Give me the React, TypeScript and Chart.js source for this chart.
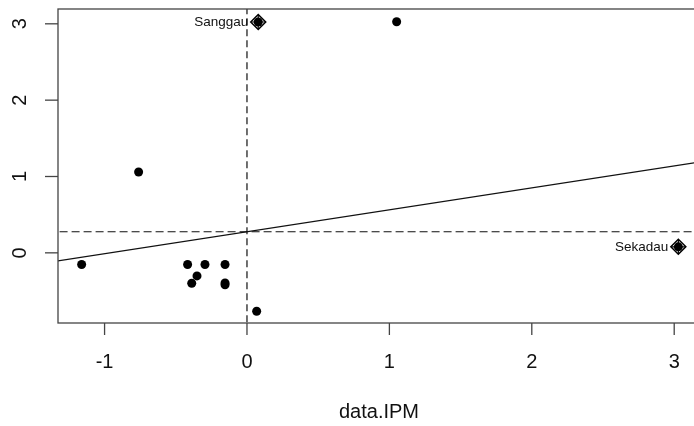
import React, { useEffect, useRef } from "react";
import { Chart, registerables } from "chart.js";

Chart.register(...registerables);

// Regular observations
const pointX = [-1.161, -0.761, -0.417, -0.388, -0.351, -0.295, -0.154, -0.154, -0.154, 0.068, 1.051];
const pointY = [-0.152, 1.059, -0.152, -0.398, -0.302, -0.152, -0.152, -0.395, -0.418, -0.765, 3.027];

// Influential (labelled) observations
const inflNames = ["Sanggau", "Sekadau"];
const inflX = [0.079, 3.029];
const inflY = [3.024, 0.079];

// Regression line endpoints
const lineX = [-1.33, 3.2];
const lineY = [-0.106, 1.195];

// Mean lines
const meanX = 0.0;
const meanY = 0.276;

const xTicks = [-1, 0, 1, 2, 3];
const yTicks = [0, 1, 2, 3];
const xTitle = "data.IPM";

const X_MIN = -1.327;
const X_MAX = 3.139;
const Y_MIN = -0.919;
const Y_MAX = 3.194;

const FONT = "'Liberation Sans', Arial, sans-serif";

export default function App() {
  const ref = useRef<HTMLCanvasElement | null>(null);

  useEffect(() => {
    document.body.style.margin = "0";
    document.body.style.overflow = "hidden";
    const canvas = ref.current;
    if (!canvas) return;

    const axesPlugin = {
      id: "rAxes",
      afterDraw(chart: any) {
        const { ctx, chartArea, scales } = chart;
        const xs = scales.x;
        const ys = scales.y;
        ctx.save();
        ctx.strokeStyle = "#444";
        ctx.lineWidth = 1.3;
        ctx.strokeRect(chartArea.left, chartArea.top, 720 - chartArea.left, chartArea.bottom - chartArea.top);
        ctx.fillStyle = "#111";
        ctx.font = `20px ${FONT}`;
        ctx.textAlign = "center";
        ctx.textBaseline = "middle";
        for (const t of xTicks) {
          const px = xs.getPixelForValue(t);
          ctx.beginPath();
          ctx.moveTo(px, chartArea.bottom);
          ctx.lineTo(px, chartArea.bottom + 12);
          ctx.stroke();
          ctx.fillText(String(t), px, 362);
        }
        for (const t of yTicks) {
          const py = ys.getPixelForValue(t);
          ctx.beginPath();
          ctx.moveTo(chartArea.left - 13, py);
          ctx.lineTo(chartArea.left, py);
          ctx.stroke();
          ctx.save();
          ctx.translate(20, py);
          ctx.rotate(-Math.PI / 2);
          ctx.fillText(String(t), 0, 0);
          ctx.restore();
        }
        ctx.fillText(xTitle, 379, 412);

        ctx.font = `13.5px ${FONT}`;
        ctx.textAlign = "right";
        for (let i = 0; i < inflNames.length; i++) {
          const px = xs.getPixelForValue(inflX[i]);
          const py = ys.getPixelForValue(inflY[i]);
          ctx.fillText(inflNames[i], px - 10, py);
        }
        ctx.restore();
      },
    };

    const chart = new Chart(canvas, {
      type: "scatter",
      data: {
        datasets: [
          {
            type: "line",
            data: lineX.map((x, i) => ({ x, y: lineY[i] })),
            borderColor: "#111",
            borderWidth: 1.2,
            pointRadius: 0,
            fill: false,
          },
          {
            type: "line",
            data: [
              { x: X_MIN - 1, y: meanY },
              { x: X_MAX + 1, y: meanY },
            ],
            borderColor: "#111",
            borderWidth: 1.2,
            borderDash: [8, 4],
            pointRadius: 0,
            fill: false,
          },
          {
            type: "line",
            data: [
              { x: meanX, y: Y_MIN - 1 },
              { x: meanX, y: Y_MAX + 1 },
            ],
            borderColor: "#111",
            borderWidth: 1.2,
            borderDash: [7, 4],
            pointRadius: 0,
            fill: false,
          },
          {
            data: pointX.map((x, i) => ({ x, y: pointY[i] })),
            pointStyle: "circle",
            pointRadius: 4.5,
            backgroundColor: "#000",
            borderColor: "#000",
            borderWidth: 0,
          },
          {
            data: inflX.map((x, i) => ({ x, y: inflY[i] })),
            pointStyle: "circle",
            pointRadius: 4.5,
            backgroundColor: "#000",
            borderColor: "#000",
            borderWidth: 0,
          },
          {
            data: inflX.map((x, i) => ({ x, y: inflY[i] })),
            pointStyle: "rectRot",
            pointRadius: 7.5,
            backgroundColor: "rgba(0,0,0,0)",
            borderColor: "#000",
            borderWidth: 1.5,
          },
          {
            data: inflX.map((x, i) => ({ x, y: inflY[i] })),
            pointStyle: "cross",
            pointRadius: 7,
            backgroundColor: "rgba(0,0,0,0)",
            borderColor: "#000",
            borderWidth: 1.2,
          },
        ],
      },
      options: {
        animation: false,
        responsive: false,
        maintainAspectRatio: false,
        layout: { autoPadding: false, padding: { left: 58, top: 9, right: 0, bottom: 103 } },
        plugins: { legend: { display: false }, tooltip: { enabled: false } },
        scales: {
          x: { type: "linear", min: X_MIN, max: X_MAX, display: false },
          y: { type: "linear", min: Y_MIN, max: Y_MAX, display: false },
        },
      },
      plugins: [axesPlugin],
    });

    return () => chart.destroy();
  }, []);

  return <canvas ref={ref} width={694} height={426} style={{ display: "block" }} />;
}
